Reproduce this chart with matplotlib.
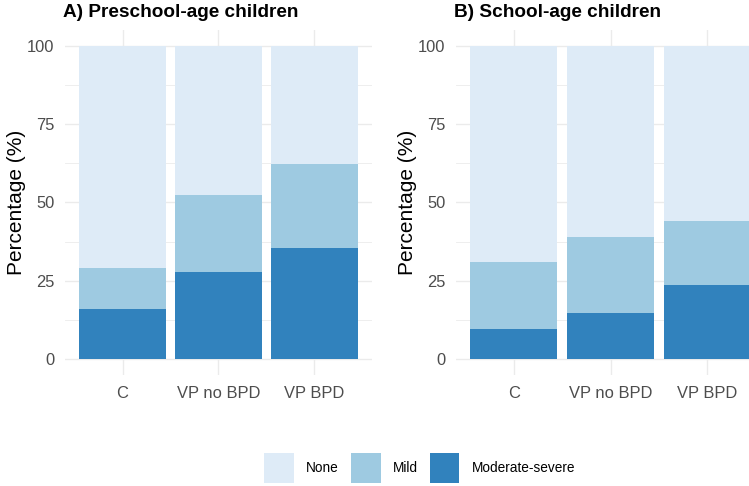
import matplotlib.pyplot as plt
from matplotlib.patches import Patch
from matplotlib.ticker import MultipleLocator

plt.rcParams['font.family'] = ['Liberation Sans', 'DejaVu Sans']

# categories and stacked percentages (bottom to top: Moderate-severe, Mild, None)
groups = ['C', 'VP no BPD', 'VP BPD']
levels = ['None', 'Mild', 'Moderate-severe']
colors = {'None': '#DEEBF7', 'Mild': '#9ECAE1', 'Moderate-severe': '#3182BD'}

pre_moderate = [16.1, 27.9, 35.6]
pre_mild = [12.9, 24.5, 26.8]
pre_none = [71.0, 47.6, 37.6]

school_moderate = [9.7, 14.9, 23.6]
school_mild = [21.3, 24.0, 20.5]
school_none = [69.0, 61.1, 55.9]

panels = [
    ('A) Preschool-age children', pre_moderate, pre_mild, pre_none),
    ('B) School-age children', school_moderate, school_mild, school_none),
]

fig = plt.figure(figsize=(7.49, 4.86), dpi=100)
W, H = 749, 486
positions = [(65, 307), (456, 309)]

for (title, moderate, mild, none), (x0, w) in zip(panels, positions):
    ax = fig.add_axes([x0 / W, 1 - 375 / H, w / W, 345 / H])
    x = range(len(groups))
    bottom = [0] * len(groups)
    for name, vals in [('Moderate-severe', moderate), ('Mild', mild), ('None', none)]:
        ax.bar(x, vals, width=0.9, bottom=bottom, color=colors[name], zorder=2)
        bottom = [b + v for b, v in zip(bottom, vals)]

    ax.set_xlim(-0.6, 2.6)
    ax.set_ylim(-5, 105)
    ax.set_xticks(list(x))
    ax.set_xticklabels(groups)
    ax.set_yticks([0, 25, 50, 75, 100])
    ax.yaxis.set_minor_locator(MultipleLocator(12.5))
    ax.grid(which='major', color='#EBEBEB', linewidth=1.0, zorder=0)
    ax.grid(which='minor', axis='y', color='#EBEBEB', linewidth=0.6, zorder=0)
    ax.tick_params(which='both', length=0, labelsize=11.9, labelcolor='#4D4D4D', pad=7.5)
    ax.tick_params(axis='x', pad=8)
    for s in ax.spines.values():
        s.set_visible(False)
    ax.set_ylabel('Percentage (%)', fontsize=15, color='black', labelpad=1)
    ax.set_title(title, loc='left', fontsize=13.7, fontweight='bold', pad=9.4, x=-0.006)

handles = [Patch(facecolor=colors[n], label=n) for n in levels]
fig.legend(handles=handles, loc='lower center', bbox_to_anchor=(0.56, -0.01), ncol=3,
           frameon=False, fontsize=9.8, handlelength=2.2, handleheight=3.0,
           handletextpad=0.88, columnspacing=0.88, borderaxespad=0.2)

fig.savefig('out.png', dpi=100)
